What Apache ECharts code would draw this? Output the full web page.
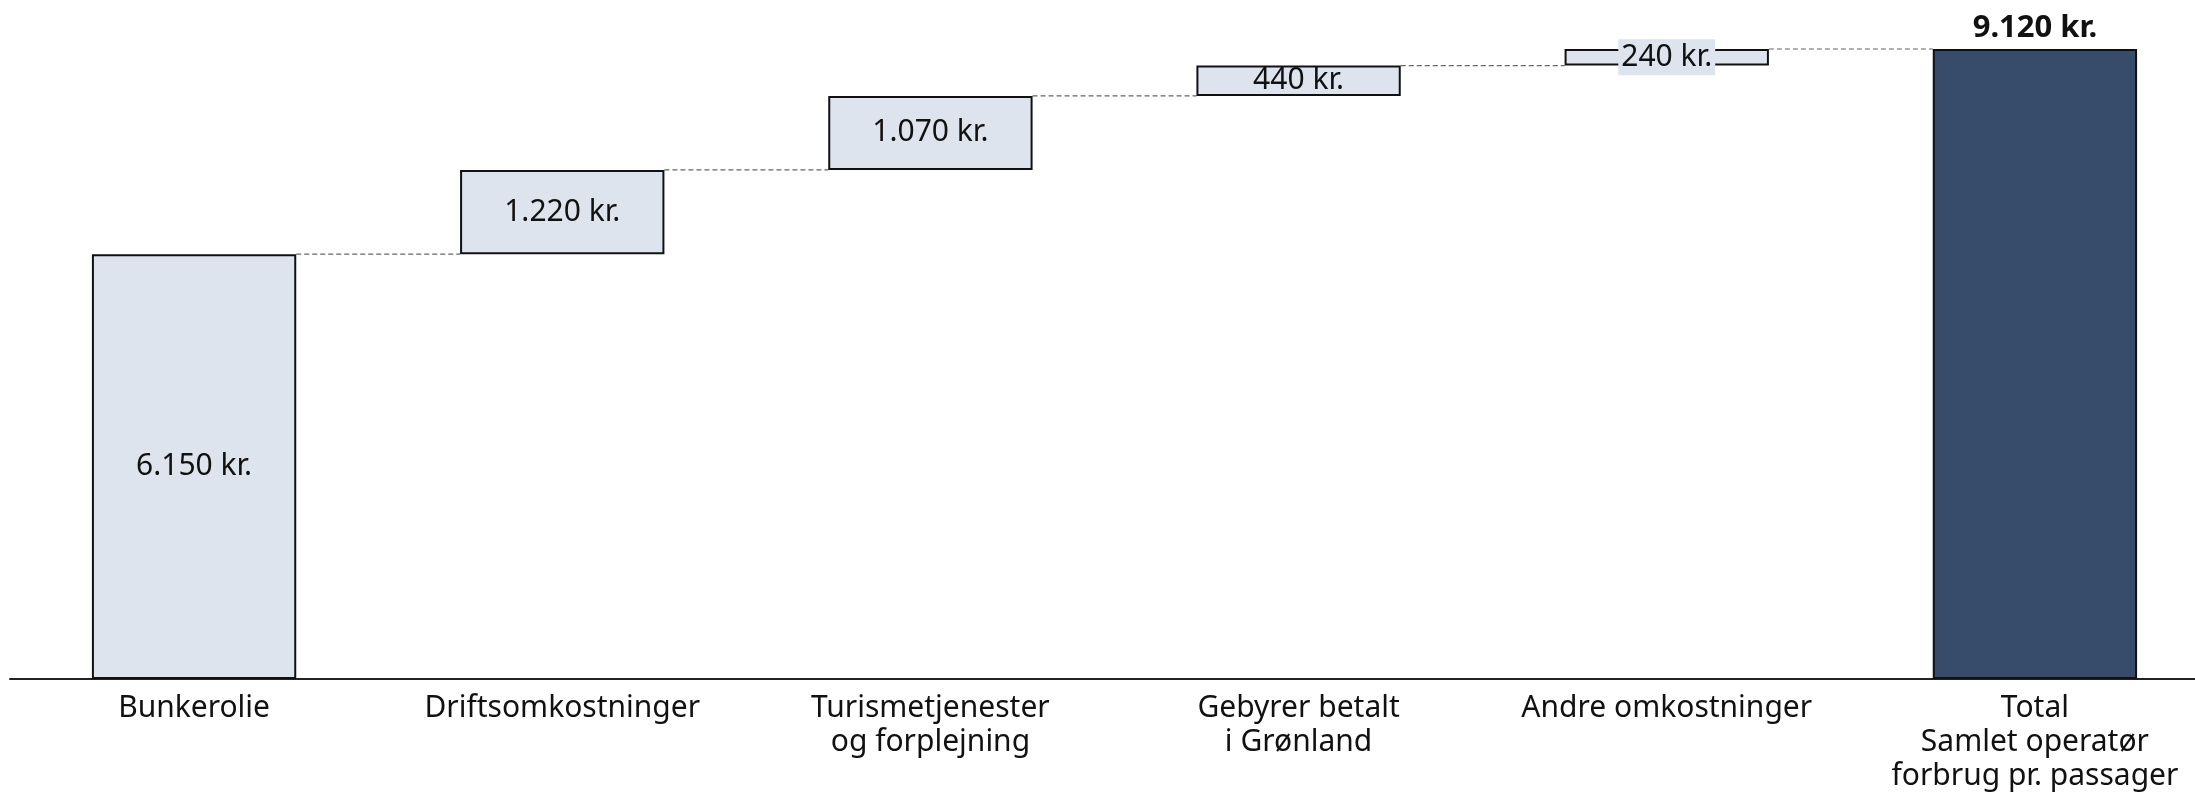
<!DOCTYPE html>
<html>
<head>
<meta charset="utf-8">
<script src="https://cdn.jsdelivr.net/npm/echarts@6/dist/echarts.min.js"></script>
<style>
  html, body { margin: 0; padding: 0; background: #fff; }
  #chart-container { width: 2195px; height: 794px; }
</style>
</head>
<body>
<div id="chart-container"></div>
<script>
var categories = [
  'Bunkerolie',
  'Driftsomkostninger',
  'Turismetjenester\nog forplejning',
  'Gebyrer betalt\ni Grønland',
  'Andre omkostninger',
  'Total\nSamlet operatør\nforbrug pr. passager'
];
var steps = [6150, 1220, 1070, 440, 240];
var total = 9120;

// base (invisible) and visible part of each bar
var baseValues = [];
var barValues = [];
var levels = [];
var running = 0;
steps.forEach(function (v) {
  baseValues.push(running);
  barValues.push(v);
  running += v;
  levels.push(running);
});
baseValues.push(0);
barValues.push(total);

function kr(v) {
  return String(v).replace(/\B(?=(\d{3})+(?!\d))/g, '.') + ' kr.';
}

var BAR_W = 0.555;
var font = 'Noto Sans';

var dom = document.getElementById('chart-container');
var myChart = echarts.init(dom, null, { renderer: 'canvas' });

var option = {
  animation: false,
  textStyle: { fontFamily: font },
  grid: {
    left: 10, top: 49, bottom: 115, width: 2209,
    containLabel: false,
    outerBoundsMode: 'none'
  },
  xAxis: {
    type: 'category',
    data: categories,
    axisLine: { lineStyle: { color: '#222', width: 2 } },
    axisTick: { show: false },
    axisLabel: {
      interval: 0,
      color: '#111',
      fontSize: 30,
      lineHeight: 34,
      margin: 12,
      fontFamily: font
    }
  },
  yAxis: {
    type: 'value',
    min: 0,
    max: 9120,
    show: false,
    splitLine: { show: false }
  },
  series: [
    {
      type: 'bar',
      stack: 'w',
      barWidth: (BAR_W * 100) + '%',
      silent: true,
      itemStyle: { color: 'transparent' },
      data: baseValues
    },
    {
      type: 'bar',
      stack: 'w',
      barWidth: (BAR_W * 100) + '%',
      data: barValues.map(function (v, i) {
        var isTotal = i === barValues.length - 1;
        var small = v < 300;
        return {
          value: v,
          itemStyle: {
            color: isTotal ? '#374b6a' : '#dee4ee',
            borderColor: '#111',
            borderWidth: 2
          },
          label: isTotal ? {
            show: true,
            position: 'top',
            distance: 5,
            fontWeight: 'bold',
            fontSize: 31,
            color: '#111',
            formatter: kr(v)
          } : {
            show: true,
            position: 'inside',
            fontSize: 30,
            color: '#111',
            backgroundColor: small ? '#dee4ee' : 'transparent',
            padding: small ? [3, 3] : 0,
            formatter: kr(v)
          }
        };
      })
    },
    {
      type: 'custom',
      silent: true,
      z: 1,
      data: levels.map(function (l, i) { return [i, l]; }),
      renderItem: function (params, api) {
        var i = api.value(0);
        var lvl = api.value(1);
        var a = api.coord([i, lvl]);
        var b = api.coord([i + 1, lvl]);
        var half = api.size([1, 0])[0] * BAR_W / 2;
        return {
          type: 'line',
          shape: { x1: a[0] + half, y1: a[1], x2: b[0] - half, y2: b[1] },
          style: { stroke: '#666', lineWidth: 1.2, lineDash: [5, 3] }
        };
      }
    }
  ]
};

myChart.setOption(option);
window.addEventListener('resize', myChart.resize);
</script>
</body>
</html>
